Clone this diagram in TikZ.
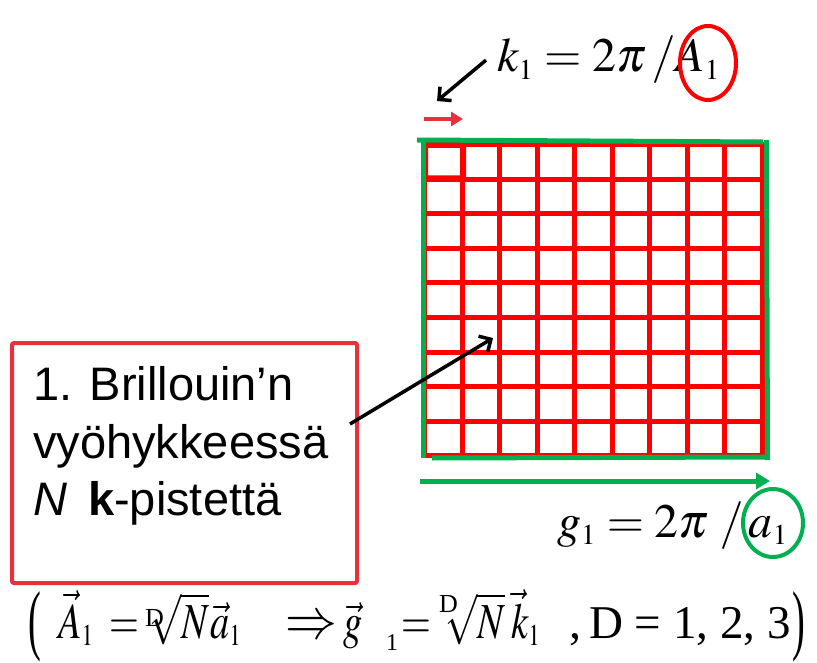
\documentclass[tikz,border=0pt]{standalone}
\usepackage{mathptmx}
\usepackage{graphicx}
\usepackage{fontspec}
\setmainfont{Liberation Serif}
\newfontfamily\arialf{Liberation Sans}
\usetikzlibrary{arrows.meta,shapes.geometric}
\definecolor{gridred}{HTML}{FF0000}
\definecolor{boxred}{HTML}{E9313E}
\definecolor{ggreen}{HTML}{00B050}
\newcommand{\narrowx}[1]{\scalebox{0.8}[1.05]{#1}}
\tikzset{
  gridline/.style={gridred, line width=5pt, line cap=rect},
  frameline/.style={ggreen, line width=5pt},
  blackarrow/.style={black, line width=3.5pt, -{Straight Barb[length=9pt,width=18pt,line width=3.5pt]}},
  labeltext/.style={inner sep=0pt, font=\arialf\fontsize{47}{57}\selectfont},
  eqtext/.style={inner sep=0pt, font=\fontsize{48}{58}\selectfont},
  fpart/.style={inner sep=0pt, anchor=base west, font=\fontsize{48}{58}\selectfont},
  rootidx/.style={inner sep=0pt, anchor=base west, font=\fontsize{26}{30}\selectfont},
  ring/.style={line width=4pt},
}
\begin{document}
\begin{tikzpicture}[x=1pt,y=-1pt]
\useasboundingbox (0,0) rectangle (817,663);

% grid
\foreach \i in {0,...,9} {
  \draw[gridline] ({424.5+\i*37.5},145) -- ({424.5+\i*37.5},455.5);
  \draw[gridline] (424.5,{145+\i*34.5}) -- (762,{145+\i*34.5});
}
\draw[gridred, line width=6pt, rounded corners=2pt] (425,145) rectangle (463,178.5);

% green frame
\draw[frameline] (417,140) -- (763,142);
\draw[frameline] (766.5,140) -- (767.5,460);
\draw[frameline] (432,458) -- (769,457);
\draw[frameline] (423.5,141) -- (423.5,458);

% k1 equation
\node[eqtext, anchor=base west] (keq) at (497,72) {$k_{\scriptscriptstyle 1} = 2\pi\,/A_{\scriptscriptstyle 1}$};
\node[draw=gridred, ring, ellipse, minimum width=56pt, minimum height=74pt, inner sep=0pt] (ringA) at (708,63) {};
\coordinate (ktip) at (437,101);
\draw[blackarrow] ([xshift=-11pt]keq.west) -- (ktip);

% small red arrow
\coordinate (rs) at (424,119);
\coordinate (re) at (463,119);
\draw[boxred, line width=4.5pt, -{Triangle[length=12pt,width=14pt]}] (rs) -- (re);

% green arrow
\coordinate (gs) at (420,481);
\coordinate (ge) at (770,481);
\draw[ggreen, line width=5pt, -{Triangle[length=14pt,width=16pt]}] (gs) -- (ge);

% g1 equation
\node[eqtext, anchor=base west] (geq) at (557,537) {$g_{\scriptscriptstyle 1} = 2\pi\;/\,a_{\scriptscriptstyle 1}$};
\node[draw=ggreen, ring, ellipse, minimum width=60pt, minimum height=68pt, inner sep=0pt] (ringa) at (773,523) {};

% label box
\node[draw=boxred, line width=4pt, rounded corners=2pt, outer sep=0pt, minimum width=345pt, minimum height=240pt] (box) at (184.5,463) {};
\node[labeltext, anchor=base west] (l1) at (33,400) {1. Brillouin’n};
\node[labeltext, anchor=base west] (l2) at (33,458) {vyöhykkeessä};
\node[labeltext, anchor=base west] (l3) at (33,515) {\textit{N}\, \textbf{k}-pistettä};
\coordinate (ptip) at (493,338);
\draw[blackarrow] ([yshift=39pt,xshift=-7pt]box.east) -- (ptip);

% bottom formula
\node[inner sep=0pt, font=\fontsize{48}{58}\selectfont] (lp) at (35,626.5) {\scalebox{0.8}[1.62]{(}};
\node[fpart] (fA) at (58,638) {\narrowx{$\vec{A}_{\scriptscriptstyle 1}$}};
\node[fpart] (feq1) at (109,638) {\narrowx{$=$}};
\node[rootidx] (fD1) at (145,626) {D};
\node[fpart] (fr1) at (149,638) {\narrowx{$\sqrt{N}$}};
\node[fpart] (fa) at (210,638) {\narrowx{$\vec{a}_{\scriptscriptstyle 1}$}};
\node[fpart] (fimp) at (285,638) {\scalebox{1.08}[1.2]{$\Rightarrow$}};
\node[fpart] (fg) at (343,638) {\narrowx{$\vec{g}$}};
\node[fpart, font=\fontsize{24}{28}\selectfont] (fg1) at (386,650) {1};
\node[fpart] (feq2) at (401,638) {\narrowx{$=$}};
\node[rootidx] (fD2) at (439,612) {D};
\node[fpart] (fr2) at (445,638) {\narrowx{$\sqrt{N}$}};
\node[fpart] (fk) at (511,638) {\narrowx{$\vec{k}_{\scriptscriptstyle 1}$}};
\node[fpart] (fcomma) at (569,638) {,};
\node[fpart, font=\fontsize{47}{58}\selectfont] (fD) at (589,638) {D = 1, 2, 3};
\node[inner sep=0pt, font=\fontsize{48}{58}\selectfont] (rp) at (799,626.5) {\scalebox{0.8}[1.62]{)}};
\end{tikzpicture}
\end{document}
